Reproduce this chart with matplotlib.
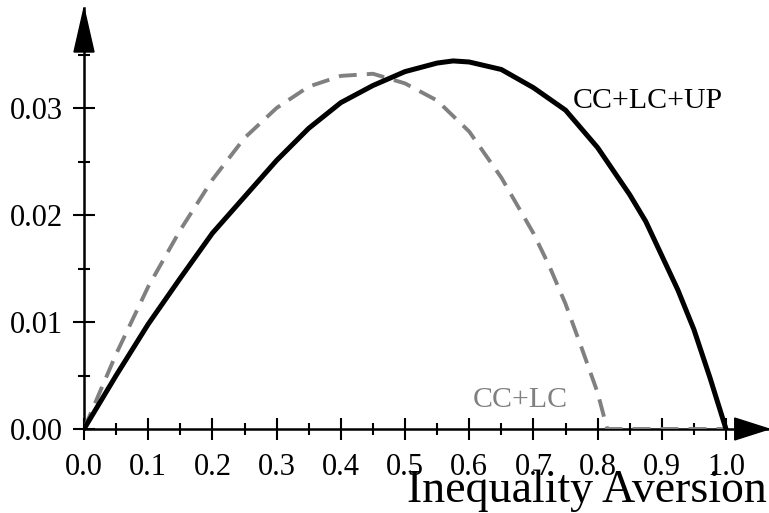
import numpy as np
import matplotlib
matplotlib.use("Agg")
import matplotlib.pyplot as plt
from matplotlib.patches import Polygon
from matplotlib.ticker import FormatStrFormatter

plt.rcParams['font.family'] = ['Liberation Serif', 'DejaVu Serif']

# values
x_full = [0.0, 0.05, 0.1, 0.15, 0.2, 0.25, 0.3, 0.35, 0.4, 0.45, 0.5, 0.55,
          0.575, 0.6, 0.65, 0.7, 0.75, 0.8, 0.825, 0.85, 0.875, 0.9, 0.925,
          0.95, 0.975, 1.0]
y_full = [0.0, 0.0050, 0.0098, 0.0141, 0.0183, 0.0217, 0.0251, 0.0281, 0.0305,
          0.0321, 0.0334, 0.0342, 0.0344, 0.0343, 0.0336, 0.0319, 0.0298, 0.0263,
          0.0241, 0.0219, 0.0194, 0.0162, 0.0130, 0.0093, 0.0048, 0.0]

x_part = [0.0, 0.05, 0.1, 0.15, 0.2, 0.25, 0.3, 0.35, 0.4, 0.45, 0.5, 0.55,
          0.6, 0.65, 0.7, 0.725, 0.75, 0.775, 0.8, 0.815, 0.85, 0.9, 0.95, 1.0]
y_part = [0.0, 0.0070, 0.0133, 0.0186, 0.0233, 0.0272, 0.0300, 0.0320, 0.0330,
          0.0332, 0.0323, 0.0307, 0.0278, 0.0235, 0.0183, 0.0152, 0.0117, 0.0076,
          0.0034, 0.0, 0.0, 0.0, 0.0, 0.0]

label_full = "CC+LC+UP"
label_part = "CC+LC"
xlabel = "Inequality Aversion"

fig = plt.figure(figsize=(7.69, 5.13), dpi=100)
ax = fig.add_axes([84 / 769, 84 / 513, 685 / 769, 421 / 513])
ax.set_xlim(0, 685 / 642)
ax.set_ylim(0, 421 / 10700)

ax.plot(x_part, y_part, color='#808080', lw=2.8, dashes=(4.6, 2.6), zorder=3)
ax.plot(x_full, y_full, color='black', lw=3.6, zorder=4)

for s in ['top', 'right']:
    ax.spines[s].set_visible(False)
for s in ['left', 'bottom']:
    ax.spines[s].set_linewidth(1.8)

ax.set_xticks(np.arange(0, 1.01, 0.1))
ax.set_xticks(np.arange(0.05, 1.0, 0.1), minor=True)
ax.set_yticks(np.arange(0, 0.031, 0.01))
ax.set_yticks(np.arange(0.005, 0.036, 0.01), minor=True)
ax.xaxis.set_major_formatter(FormatStrFormatter('%.1f'))
ax.yaxis.set_major_formatter(FormatStrFormatter('%.2f'))
ax.tick_params(which='major', direction='inout', length=16, width=1.5,
               labelsize=22)
ax.tick_params(which='minor', direction='inout', length=8, width=1.5)
ax.tick_params(axis='y', which='major', pad=7)
ax.tick_params(axis='x', which='major', pad=9)

# arrow heads at the axis ends
ax.add_patch(Polygon([[0, 1], [-0.0146, 0.8955], [0.0146, 0.8955]], closed=True,
                     transform=ax.transAxes, color='black', clip_on=False, zorder=5))
ax.add_patch(Polygon([[1, 0], [0.95, 0.026], [0.95, -0.026]], closed=True,
                     transform=ax.transAxes, color='black', clip_on=False, zorder=5))

ax.text(0.762, 0.0300, label_full, fontsize=21.5, color='black', va='baseline')
ax.text(0.606, 0.0021, label_part, fontsize=21.5, color='#808080', va='baseline')
fig.text(767 / 769, 11 / 513, xlabel, fontsize=33, ha='right', va='baseline')

fig.savefig("out.png", dpi=100)
